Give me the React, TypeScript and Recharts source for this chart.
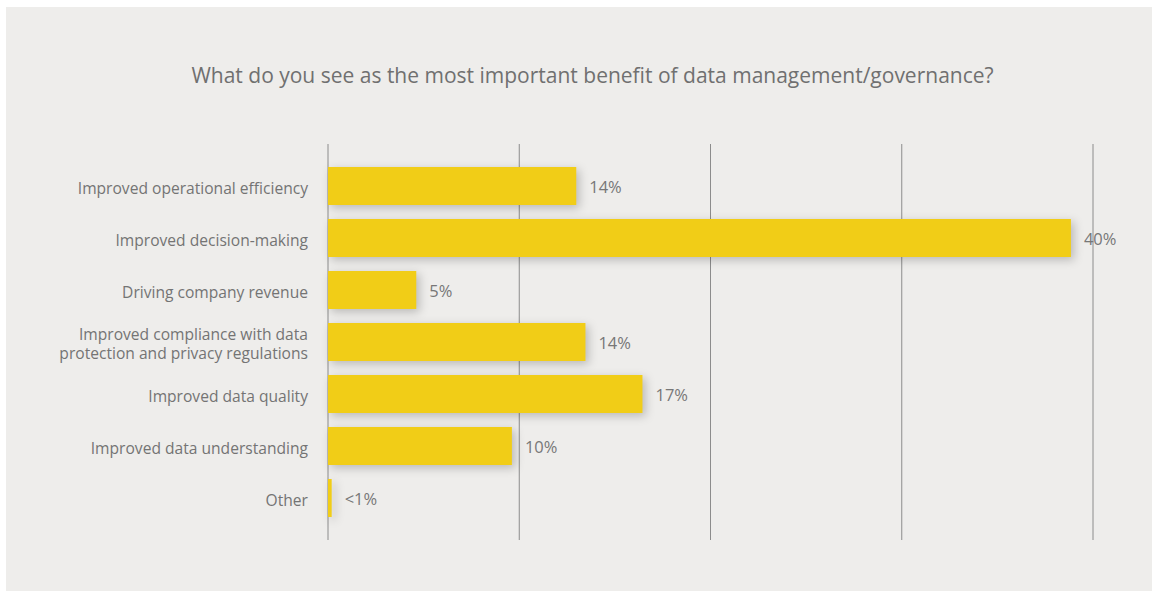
import { BarChart, Bar, XAxis, YAxis, CartesianGrid, LabelList } from 'recharts';

const categories = [
  'Improved operational efficiency',
  'Improved decision-making',
  'Driving company revenue',
  'Improved compliance with data\nprotection and privacy regulations',
  'Improved data quality',
  'Improved data understanding',
  'Other',
];
const shares = [13.5, 40.4, 4.8, 14.0, 17.1, 10.0, 0.2];
const shareLabels = ['14%', '40%', '5%', '14%', '17%', '10%', '<1%'];
const gridTicks = [0, 10.4, 20.8, 31.2, 41.6];

const TITLE = 'What do you see as the most important benefit of data management/governance?';
const FONT = '"Open Sans", sans-serif';

const data = categories.map((name, i) => ({ name, value: shares[i], label: shareLabels[i] }));

const CategoryTick = ({ x, y, payload }: any) => {
  const lines = String(payload.value).split('\n');
  const lh = 18.5;
  const start = -((lines.length - 1) * lh) / 2 + 1.5;
  return (
    <text x={x} y={y} textAnchor="end" fill="#747474" fontSize={15.6} fontFamily={FONT}>
      {lines.map((l, i) => (
        <tspan key={i} x={x} dy={i === 0 ? start : lh} dominantBaseline="central">
          {l}
        </tspan>
      ))}
    </text>
  );
};

const ShadowBar = (p: any) => (
  <rect
    x={p.x}
    y={p.y}
    width={Math.max(p.width, 0)}
    height={p.height}
    fill={p.fill}
    style={{ filter: 'drop-shadow(3px 3px 5px rgba(0,0,0,0.22))' }}
  />
);

export default function App() {
  return (
    <div style={{ position: 'absolute', left: 0, top: 0, width: 1152, height: 592, background: '#fff', overflow: 'hidden' }}>
      <div style={{ position: 'absolute', left: 6, top: 7, width: 1146, height: 584, background: '#eeedeb' }}>
        <div
          style={{
            position: 'absolute',
            left: 0,
            top: 55,
            width: 1173,
            textAlign: 'center',
            fontFamily: FONT,
            fontSize: 21,
            lineHeight: '26px',
            color: '#707070',
          }}
        >
          {TITLE}
        </div>
        <BarChart
          width={1146}
          height={584}
          data={data}
          layout="vertical"
          margin={{ top: 137, right: 59, bottom: 51, left: 0 }}
        >
          <CartesianGrid horizontal={false} stroke="#8c8c8c" strokeWidth={1} />
          <XAxis type="number" domain={[0, 41.6]} ticks={gridTicks} hide />
          <YAxis
            type="category"
            dataKey="name"
            width={322}
            axisLine={false}
            tickLine={false}
            tickSize={0}
            tickMargin={20}
            padding={{ top: 16, bottom: 16 }}
            interval={0}
            tick={<CategoryTick />}
          />
          <Bar dataKey="value" fill="#f1cd17" barSize={38} isAnimationActive={false} shape={<ShadowBar />}>
            <LabelList
              dataKey="label"
              position="right"
              offset={13}
              fill="#777"
              fontSize={16.5}
              fontFamily={FONT}
              dy={1.5}
            />
          </Bar>
        </BarChart>
      </div>
    </div>
  );
}
